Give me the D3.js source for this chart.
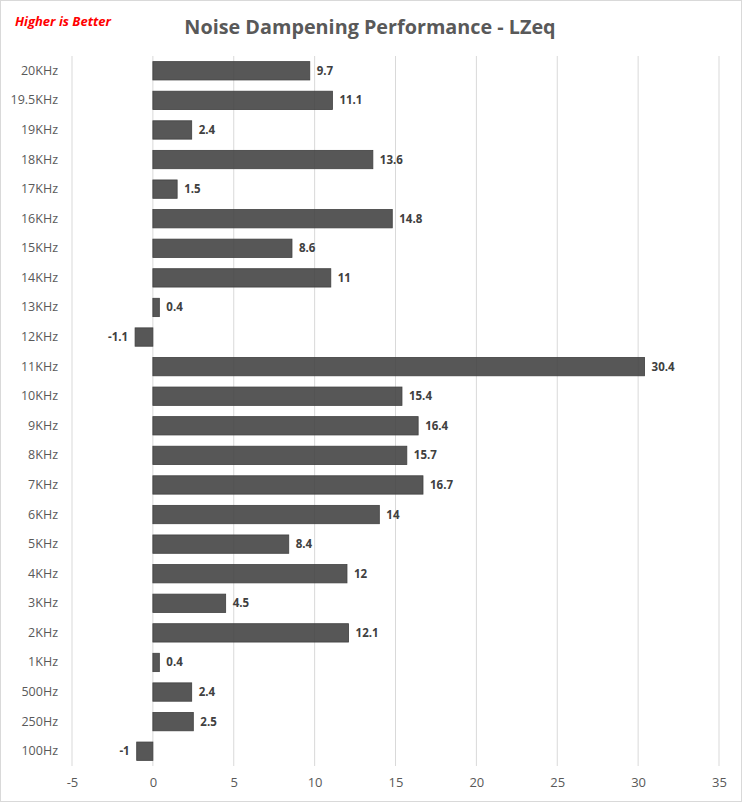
<!DOCTYPE html>
<html>
<head>
<meta charset="utf-8">
<script src="https://cdn.jsdelivr.net/npm/d3@7"></script>
<style>
  body { margin: 0; background: #fff; }
  text { font-family: "Open Sans", "Liberation Sans", sans-serif; }
</style>
</head>
<body>
<div id="chart"></div>
<script>
// data (top to bottom)
let categories = ['20KHz', '19.5KHz', '19KHz', '18KHz', '17KHz', '16KHz', '15KHz', '14KHz',
    '13KHz', '12KHz', '11KHz', '10KHz', '9KHz', '8KHz', '7KHz', '6KHz', '5KHz', '4KHz',
    '3KHz', '2KHz', '1KHz', '500Hz', '250Hz', '100Hz'];
let values = [9.7, 11.1, 2.4, 13.6, 1.5, 14.8, 8.6, 11, 0.4, -1.1, 30.4, 15.4, 16.4, 15.7,
    16.7, 14, 8.4, 12, 4.5, 12.1, 0.4, 2.4, 2.5, -1];
let xTicks = [-5, 0, 5, 10, 15, 20, 25, 30, 35];

let svgWidth = 742;
let svgHeight = 802;

let margin = { top: 56, right: 23, bottom: 36, left: 72 };
let width = svgWidth - margin.left - margin.right;
let height = svgHeight - margin.top - margin.bottom;

let data = categories.map((c, i) => ({ cat: c, val: values[i] }));

let svg = d3.select('#chart')
    .append('svg')
    .attr('width', svgWidth)
    .attr('height', svgHeight);

// outer frame
svg.append('rect')
    .attr('x', 0.5).attr('y', 0.5)
    .attr('width', svgWidth - 1).attr('height', svgHeight - 1)
    .attr('fill', '#fff')
    .attr('stroke', '#d9d9d9');

let chartGroup = svg.append('g')
    .attr('transform', `translate(${margin.left}, ${margin.top})`);

let xScale = d3.scaleLinear()
    .domain([-5, 35])
    .range([0, width]);

let yScale = d3.scaleBand()
    .domain(categories)
    .range([0, height])
    .paddingInner(0.38)
    .paddingOuter(0.19);

// gridlines
chartGroup.append('g')
    .selectAll('line')
    .data(xTicks)
    .enter()
    .append('line')
    .attr('x1', d => xScale(d)).attr('x2', d => xScale(d))
    .attr('y1', 0).attr('y2', height)
    .attr('stroke', '#d9d9d9')
    .attr('stroke-width', 1);

// x axis
let bottomAxis = d3.axisBottom(xScale)
    .tickValues(xTicks)
    .tickFormat(d => String(d))
    .tickSize(0)
    .tickPadding(12);
let xAxis = chartGroup.append('g')
    .attr('transform', `translate(0, ${height})`)
    .call(bottomAxis);
xAxis.select('.domain').remove();
xAxis.selectAll('text')
    .attr('fill', '#595959')
    .style('font-size', '13px');

// bars
chartGroup.append('g')
    .selectAll('rect')
    .data(data)
    .enter()
    .append('rect')
    .attr('x', d => xScale(Math.min(0, d.val)))
    .attr('y', d => yScale(d.cat))
    .attr('width', d => Math.abs(xScale(d.val) - xScale(0)))
    .attr('height', yScale.bandwidth())
    .attr('fill', '#404040')
    .attr('fill-opacity', 0.88)
    .attr('stroke', '#404040')
    .attr('stroke-width', 0.8);

// value labels
chartGroup.append('g')
    .selectAll('text')
    .data(data)
    .enter()
    .append('text')
    .attr('x', d => d.val >= 0 ? xScale(d.val) + 7 : xScale(d.val) - 7)
    .attr('y', d => yScale(d.cat) + yScale.bandwidth() / 2)
    .attr('dy', '0.35em')
    .attr('text-anchor', d => d.val >= 0 ? 'start' : 'end')
    .attr('fill', '#404040')
    .style('font-size', '11.5px')
    .style('font-weight', 'bold')
    .text(d => d.val);

// category labels
let leftAxis = d3.axisLeft(yScale).tickSize(0).tickPadding(14);
let yAxis = chartGroup.append('g').call(leftAxis);
yAxis.select('.domain').remove();
yAxis.selectAll('text')
    .attr('fill', '#595959')
    .style('font-size', '12.5px');

// title
svg.append('text')
    .attr('x', 370)
    .attr('y', 34)
    .attr('text-anchor', 'middle')
    .attr('fill', '#595959')
    .style('font-size', '19.8px')
    .style('font-weight', 'bold')
    .text('Noise Dampening Performance - LZeq');

svg.append('text')
    .attr('x', 15)
    .attr('y', 26)
    .attr('fill', '#ff0000')
    .style('font-size', '13px')
    .style('font-weight', 'bold')
    .style('font-style', 'italic')
    .text('Higher is Better');
</script>
</body>
</html>
